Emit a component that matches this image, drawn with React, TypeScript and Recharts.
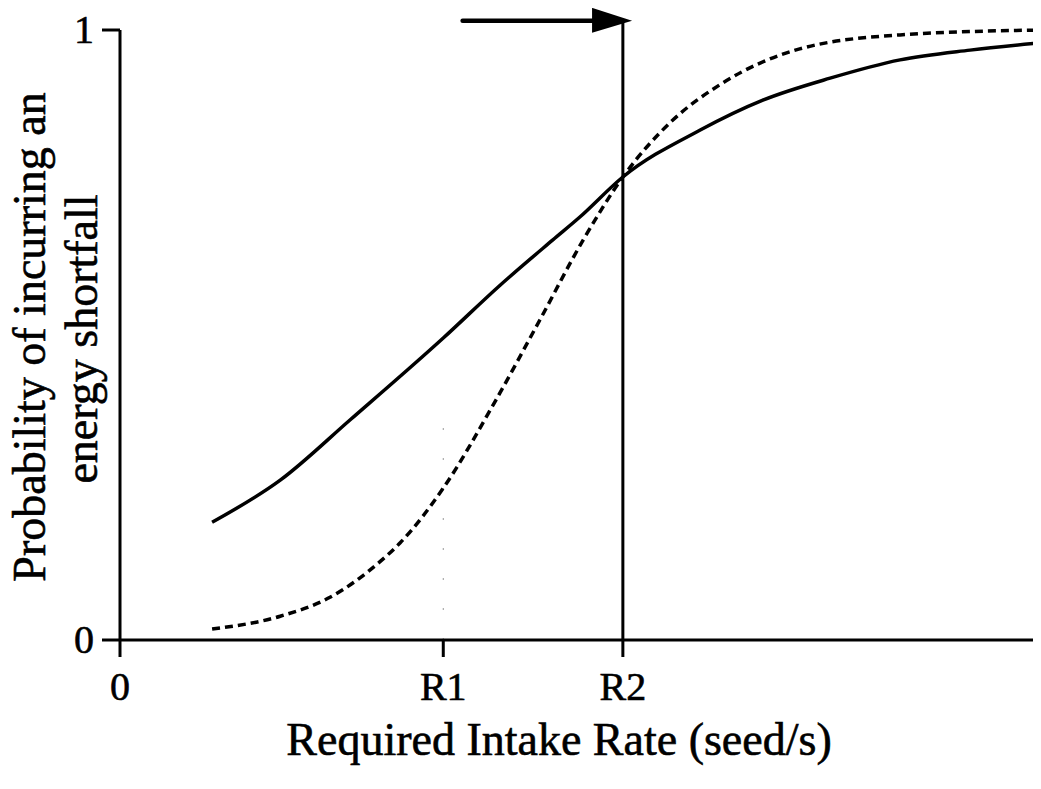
import {
  Line,
  LineChart,
  ReferenceLine,
  XAxis,
  YAxis,
} from "recharts";

// x runs 0..100 across the plot, y is a probability 0..1
const R1 = 35.1;
const R2 = 54.6;

const solidX = [10, 17.4, 25, 35.1, 41.3, 47, 49.9, 54.6, 63, 69.8, 77.1, 84.7, 92.3, 100];
const solidY = [0.193, 0.262, 0.361, 0.495, 0.582, 0.656, 0.693, 0.759, 0.836, 0.885, 0.921, 0.951, 0.967, 0.979];

const dashedX = [10, 17.4, 22.8, 28.2, 30.4, 35.1, 40.8, 45.6, 50.3, 54.6, 60, 65.1, 73.8, 84.7, 100];
const dashedY = [0.018, 0.039, 0.07, 0.128, 0.159, 0.249, 0.393, 0.525, 0.656, 0.759, 0.852, 0.91, 0.969, 0.992, 1.0];

const xTickValues = [0, R1, R2];
const xTickLabels = ["0", "R1", "R2"];
const yTickValues = [0, 1];
const yTickLabels = ["0", "1"];

const arrowFrom = 37.2;
const arrowTo = 55.6;
const arrowY = 1.015;

const solidData = solidX.map((x, i) => ({ x, p: solidY[i] }));
const dashedData = dashedX.map((x, i) => ({ x, p: dashedY[i] }));

const FONT = '"Liberation Serif", "Times New Roman", serif';
const textStyle = { fontFamily: FONT, fill: "#000", stroke: "#000", strokeWidth: 0.6 };

const XTick = ({ x, payload }: any) => {
  const i = xTickValues.indexOf(payload.value);
  return (
    <text x={x} y={700} textAnchor="middle" fontSize={40} style={textStyle}>
      {xTickLabels[i] ?? ""}
    </text>
  );
};

const YTick = ({ y, payload }: any) => {
  const i = yTickValues.indexOf(payload.value);
  return (
    <text x={94} y={y + 13} textAnchor="end" fontSize={40} style={textStyle}>
      {yTickLabels[i] ?? ""}
    </text>
  );
};

const Arrow = ({ x1, y1, x2 }: any) => (
  <g>
    <line x1={x1} y1={y1} x2={x2 - 30} y2={y1} stroke="#000" strokeWidth={4.5} strokeLinecap="round" />
    <polygon points={`${x2 - 40},${y1 - 13} ${x2},${y1} ${x2 - 40},${y1 + 12}`} fill="#000" />
  </g>
);

export default function App() {
  return (
    <div style={{ margin: -8, width: 1041, height: 789, background: "#fff" }}>
      <LineChart
        width={1041}
        height={789}
        margin={{ top: 30, right: 0, bottom: 0, left: 0 }}
      >
        <XAxis
          dataKey="x"
          type="number"
          domain={[0, 100]}
          ticks={xTickValues}
          tick={<XTick />}
          height={149}
          stroke="#000"
          axisLine={{ strokeWidth: 3 }}
          tickLine={{ strokeWidth: 3 }}
          tickSize={17}
          allowDataOverflow
        />
        <YAxis
          type="number"
          domain={[0, 1]}
          ticks={yTickValues}
          tick={<YTick />}
          width={120}
          stroke="#000"
          axisLine={{ strokeWidth: 3 }}
          tickLine={{ strokeWidth: 3 }}
          tickSize={18}
        />
        <ReferenceLine
          segment={[{ x: R1, y: 0 }, { x: R1, y: 0.37 }]}
          stroke="#999"
          strokeWidth={1}
          strokeDasharray="2 28"
          ifOverflow="visible"
        />
        <ReferenceLine
          segment={[{ x: R2, y: 0 }, { x: R2, y: 1.014 }]}
          stroke="#000"
          strokeWidth={3}
          ifOverflow="visible"
        />
        <ReferenceLine
          segment={[{ x: arrowFrom, y: arrowY }, { x: arrowTo, y: arrowY }]}
          ifOverflow="visible"
          shape={(props: any) => <Arrow {...props} />}
        />
        <Line
          data={solidData}
          dataKey="p"
          type="monotone"
          stroke="#000"
          strokeWidth={3.5}
          dot={false}
          isAnimationActive={false}
        />
        <Line
          data={dashedData}
          dataKey="p"
          type="monotone"
          stroke="#000"
          strokeWidth={3.5}
          strokeDasharray="8 5"
          dot={false}
          isAnimationActive={false}
        />
        <text x={559} y={755} textAnchor="middle" fontSize={46} style={textStyle}>
          Required Intake Rate (seed/s)
        </text>
        <text
          transform="translate(45,337) rotate(-90)"
          textAnchor="middle"
          fontSize={46}
          style={textStyle}
        >
          Probability of incurring an
        </text>
        <text
          transform="translate(97,339) rotate(-90)"
          textAnchor="middle"
          fontSize={46}
          style={textStyle}
        >
          energy shortfall
        </text>
      </LineChart>
    </div>
  );
}
